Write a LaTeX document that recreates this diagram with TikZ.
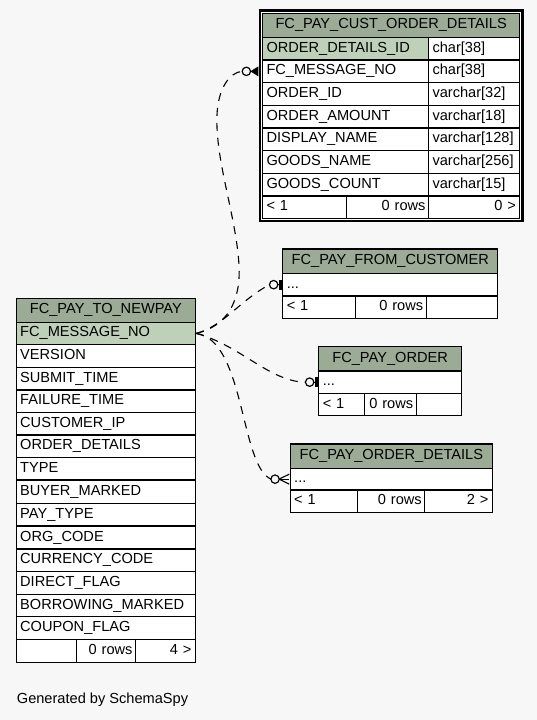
\documentclass[tikz,border=0pt]{standalone}
\usepackage{fontspec}
\setmainfont{Liberation Sans}
\usetikzlibrary{calc}
\definecolor{bgc}{HTML}{F7F7F7}
\definecolor{headc}{HTML}{9BAB96}
\definecolor{pkc}{HTML}{BED1B8}
\tikzset{
  cellbox/.style={draw=black, line width=1.3pt, inner xsep=4pt, inner ysep=0pt,
    text height=10.5pt, text depth=3.5pt, font=\fontsize{14.6}{17}\selectfont},
  rel/.style={draw=black, line width=1.1pt, dash pattern=on 8pt off 7pt},
  odot/.style={draw=black, line width=1.2pt, fill=bgc},
  crowline/.style={draw=black, line width=1.1pt}
}
\newcommand\tcell[8]{%
  \pgfmathsetmacro\tcW{#4-#2}\pgfmathsetmacro\tcH{#5-#3}\pgfmathsetmacro\tcT{#4-#2-7}%
  \pgfmathsetmacro\tcX{(#2+#4)/2}\pgfmathsetmacro\tcY{(#3+#5)/2}%
  \node[cellbox, fill=#6, align=#7, minimum width=\tcW pt, minimum height=\tcH pt, text width=\tcT pt] (#1) at (\tcX,\tcY) {\mbox{#8}};}
\begin{document}
\begin{tikzpicture}[x=1pt,y=-1pt]
\fill[bgc] (0,0) rectangle (537,720);
\useasboundingbox (0,0) rectangle (537,720);

% ---------- FC_PAY_CUST_ORDER_DETAILS ----------
\draw[line width=2.5pt, fill=white] (260,10.3) rectangle (522.4,221);
\tcell{codH}{263}{13.3}{519.3}{37.3}{headc}{center}{FC\_PAY\_CUST\_ORDER\_DETAILS}
\tcell{codId}{263}{37.3}{429}{60}{pkc}{left}{ORDER\_DETAILS\_ID}
\tcell{codIdT}{429}{37.3}{519.3}{60}{white}{left}{char[38]}
\tcell{codFc}{263}{60}{429}{82.7}{white}{left}{FC\_MESSAGE\_NO}
\tcell{codFcT}{429}{60}{519.3}{82.7}{white}{left}{char[38]}
\tcell{codOi}{263}{82.7}{429}{105.3}{white}{left}{ORDER\_ID}
\tcell{codOiT}{429}{82.7}{519.3}{105.3}{white}{left}{varchar[32]}
\tcell{codOa}{263}{105.3}{429}{128}{white}{left}{ORDER\_AMOUNT}
\tcell{codOaT}{429}{105.3}{519.3}{128}{white}{left}{varchar[18]}
\tcell{codDn}{263}{128}{429}{150.7}{white}{left}{DISPLAY\_NAME}
\tcell{codDnT}{429}{128}{519.3}{150.7}{white}{left}{varchar[128]}
\tcell{codGn}{263}{150.7}{429}{173.3}{white}{left}{GOODS\_NAME}
\tcell{codGnT}{429}{150.7}{519.3}{173.3}{white}{left}{varchar[256]}
\tcell{codGc}{263}{173.3}{429}{196}{white}{left}{GOODS\_COUNT}
\tcell{codGcT}{429}{173.3}{519.3}{196}{white}{left}{varchar[15]}
\tcell{codF1}{263}{196}{346.7}{218.3}{white}{left}{< 1}
\tcell{codF2}{346.7}{196}{429}{218.3}{white}{right}{0 rows}
\tcell{codF3}{429}{196}{519.3}{218.3}{white}{right}{0 >}

% ---------- FC_PAY_FROM_CUSTOMER ----------
\tcell{fcH}{283.3}{249}{497.3}{273.3}{headc}{center}{FC\_PAY\_FROM\_CUSTOMER}
\tcell{fcR}{283.3}{273.3}{497.3}{296}{white}{left}{...}
\tcell{fcF1}{283.3}{296}{355.7}{318.3}{white}{left}{< 1}
\tcell{fcF2}{355.7}{296}{426.7}{318.3}{white}{right}{0 rows}
\tcell{fcF3}{426.7}{296}{497.3}{318.3}{white}{right}{}

% ---------- FC_PAY_ORDER ----------
\tcell{poH}{319.3}{346.7}{461}{371}{headc}{center}{FC\_PAY\_ORDER}
\tcell{poR}{319.3}{371}{461}{393.3}{white}{left}{...}
\tcell{poF1}{319.3}{393.3}{365}{415.7}{white}{left}{< 1}
\tcell{poF2}{365}{393.3}{416.7}{415.7}{white}{right}{0 rows}
\tcell{poF3}{416.7}{393.3}{461}{415.7}{white}{right}{}

% ---------- FC_PAY_ORDER_DETAILS ----------
\tcell{podH}{290.7}{444}{492}{468.3}{headc}{center}{FC\_PAY\_ORDER\_DETAILS}
\tcell{podR}{290.7}{468.3}{492}{490}{white}{left}{...}
\tcell{podF1}{290.7}{490}{358.3}{512.7}{white}{left}{< 1}
\tcell{podF2}{358.3}{490}{425.3}{512.7}{white}{right}{0 rows}
\tcell{podF3}{425.3}{490}{492}{512.7}{white}{right}{2 >}

% ---------- FC_PAY_TO_NEWPAY ----------
\tcell{tnH}{16.7}{298.3}{195}{322.3}{headc}{center}{FC\_PAY\_TO\_NEWPAY}
\tcell{tnFc}{16.7}{322.3}{195}{344.5}{pkc}{left}{FC\_MESSAGE\_NO}
\tcell{tnVe}{16.7}{344.5}{195}{367.5}{white}{left}{VERSION}
\tcell{tnSt}{16.7}{367.5}{195}{390}{white}{left}{SUBMIT\_TIME}
\tcell{tnFt}{16.7}{390}{195}{412.7}{white}{left}{FAILURE\_TIME}
\tcell{tnCi}{16.7}{412.7}{195}{435}{white}{left}{CUSTOMER\_IP}
\tcell{tnOd}{16.7}{435}{195}{457.7}{white}{left}{ORDER\_DETAILS}
\tcell{tnTy}{16.7}{457.7}{195}{480}{white}{left}{TYPE}
\tcell{tnBm}{16.7}{480}{195}{503.3}{white}{left}{BUYER\_MARKED}
\tcell{tnPt}{16.7}{503.3}{195}{526}{white}{left}{PAY\_TYPE}
\tcell{tnOc}{16.7}{526}{195}{549}{white}{left}{ORG\_CODE}
\tcell{tnCc}{16.7}{549}{195}{571.7}{white}{left}{CURRENCY\_CODE}
\tcell{tnDf}{16.7}{571.7}{195}{594.3}{white}{left}{DIRECT\_FLAG}
\tcell{tnBo}{16.7}{594.3}{195}{616.7}{white}{left}{BORROWING\_MARKED}
\tcell{tnCf}{16.7}{616.7}{195}{639.3}{white}{left}{COUPON\_FLAG}
\tcell{tnF1}{16.7}{639.3}{77.3}{662.5}{white}{left}{}
\tcell{tnF2}{77.3}{639.3}{136}{662.5}{white}{right}{0 rows}
\tcell{tnF3}{136}{639.3}{195}{662.5}{white}{right}{4 >}

\node[anchor=base west, inner sep=0pt, font=\fontsize{14.6}{17}\selectfont] (cap) at (16.7,703.3) {Generated by SchemaSpy};

% ---------- connectors ----------
\coordinate (c1) at ($(codFc.west)+(-15.5,0)$);
\coordinate (e1) at ($(c1)+(-4,0)$);
\coordinate (c2) at ($(fcR.west)+(-8.5,0)$);
\coordinate (e2) at ($(c2)+(-4,0)$);
\coordinate (c3) at ($(poR.west)+(-8.5,0)$);
\coordinate (e3) at ($(c3)+(-4,0)$);
\coordinate (c4) at ($(podR.west)+(-14.5,0)$);
\coordinate (e4) at ($(c4)+(-4,0)$);

\draw[rel] (tnFc.east) .. controls (228,326) and (241,300) .. (239,265)
  .. controls (236,215) and (215,160) .. (217,115)
  .. controls (218,88) and (230,72) .. (e1);
\draw[rel] (tnFc.east) .. controls (224,326) and (240,300) .. (e2);
\draw[rel] (tnFc.east) .. controls (240,345) and (270,382) .. (e3);
\draw[rel] (tnFc.east) .. controls (245,340) and (240,466) .. (e4);

% markers: crow (filled) + odot
\fill[black] ($(c1)+(4,0)$) -- ($(codFc.west)+(-3.5,-5)$) -- ($(codFc.west)+(-3.5,5)$) -- cycle;
\draw[odot] (c1) circle[radius=4.2pt];
% tee + odot
\draw[crowline] ($(c2)+(4,0)$) -- ($(fcR.west)+(-1,0)$);
\fill[black] ($(fcR.west)+(-2.8,-5)$) rectangle ($(fcR.west)+(-0.3,5)$);
\draw[odot] (c2) circle[radius=4.2pt];
\draw[crowline] ($(c3)+(4,0)$) -- ($(poR.west)+(-1,0)$);
\fill[black] ($(poR.west)+(-2.8,-5)$) rectangle ($(poR.west)+(-0.3,5)$);
\draw[odot] (c3) circle[radius=4.2pt];
% crow + odot
\draw[crowline] ($(c4)+(4,0)$) -- ($(podR.west)+(-0.3,-5)$);
\draw[crowline] ($(c4)+(4,0)$) -- ($(podR.west)+(-0.3,0)$);
\draw[crowline] ($(c4)+(4,0)$) -- ($(podR.west)+(-0.3,5)$);
\draw[odot] (c4) circle[radius=4.2pt];
\end{tikzpicture}
\end{document}
